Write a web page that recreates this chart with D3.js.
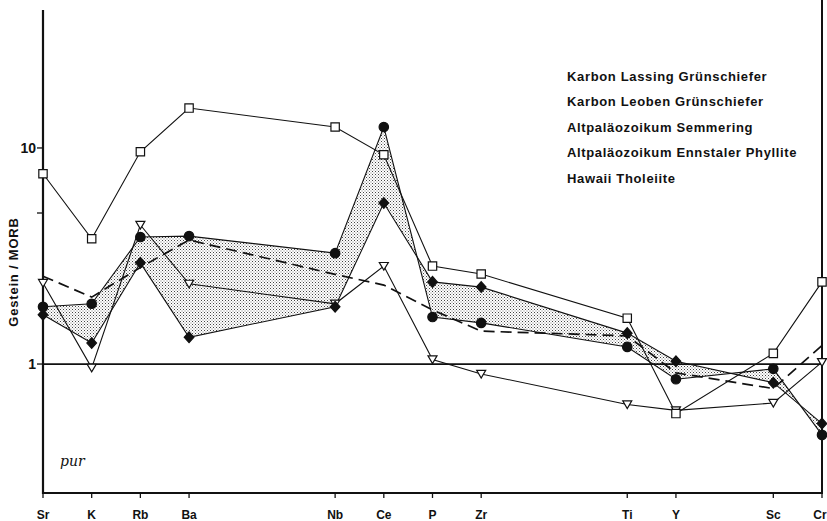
<!DOCTYPE html>
<html>
<head>
<meta charset="utf-8">
<script src="https://cdn.jsdelivr.net/npm/d3@7"></script>
<style>
  body { margin: 0; background: #fff; }
  text { font-family: "Liberation Sans", Arial, sans-serif; font-weight: bold; fill: #111; }
</style>
</head>
<body>
<div id="chart"></div>
<script>
// elements and their slot on the x axis (gaps as in the original diagram)
const elements = ["Sr", "K", "Rb", "Ba", "Nb", "Ce", "P", "Zr", "Ti", "Y", "Sc", "Cr"];
const slots    = [0, 1, 2, 3, 6, 7, 8, 9, 12, 13, 15, 16];

// Gestein / MORB values
const lassing   = [7.6, 3.8, 9.6, 15.3, 12.5, 9.3, 2.84, 2.61, 1.63, 0.59, 1.12, 2.4];
const leoben    = [1.84, 1.9, 3.87, 3.91, 3.26, 12.5, 1.65, 1.55, 1.2, 0.85, 0.95, 0.47];
const semmering = [1.69, 1.25, 2.94, 1.33, 1.84, 5.56, 2.4, 2.27, 1.39, 1.03, 0.82, 0.53];
const ennstal   = [2.37, 0.96, 4.4, 2.35, 1.9, 2.84, 1.05, 0.9, 0.65, 0.61, 0.66, 1.02];
const hawaii    = [2.55, 2.04, 2.8, 3.75, 2.6, 2.32, 1.78, 1.42, 1.35, 0.91, 0.77, 1.22];

const legendLabels = [
  "Karbon Lassing Grünschiefer",
  "Karbon Leoben Grünschiefer",
  "Altpaläozoikum Semmering",
  "Altpaläozoikum Ennstaler Phyllite",
  "Hawaii Tholeiite"
];
const yTicks = [1, 5, 10];
const yTickLabels = ["1", "", "10"];

const width = 827, height = 521;

const svg = d3.select("#chart").append("svg")
  .attr("width", width)
  .attr("height", height);

const x = d3.scaleLinear().domain([0, 16]).range([43, 822]);
const y = d3.scaleLog().domain([0.253, 43.5]).range([493, 10]);

// stipple pattern for the Leoben / Semmering envelope
const pat = svg.append("defs").append("pattern")
  .attr("id", "dots")
  .attr("width", 3).attr("height", 3)
  .attr("patternUnits", "userSpaceOnUse");
pat.append("rect").attr("width", 3).attr("height", 3).attr("fill", "#fff");
pat.append("rect").attr("width", 1).attr("height", 1).attr("fill", "#444");
pat.append("rect").attr("x", 1.5).attr("y", 1.5).attr("width", 1).attr("height", 1).attr("fill", "#777");

const pts = vals => vals.map((v, i) => [x(slots[i]), y(v)]);

// shaded band: Leoben forward, Semmering backward
const band = pts(leoben).concat(pts(semmering).reverse());
svg.append("path")
  .attr("d", "M" + band.join("L") + "Z")
  .attr("fill", "url(#dots)")
  .attr("stroke", "none");

// axes
svg.append("line")
  .attr("x1", x(0)).attr("x2", x(0))
  .attr("y1", 10).attr("y2", 494)
  .attr("stroke", "#111").attr("stroke-width", 2.2);
svg.append("line")
  .attr("x1", x(16)).attr("x2", x(16))
  .attr("y1", 0).attr("y2", 494)
  .attr("stroke", "#111").attr("stroke-width", 2);
svg.append("line")
  .attr("x1", x(0)).attr("x2", x(16))
  .attr("y1", 493).attr("y2", 493)
  .attr("stroke", "#111").attr("stroke-width", 2.2);

// reference line at 1
svg.append("line")
  .attr("x1", x(0)).attr("x2", x(16))
  .attr("y1", y(1)).attr("y2", y(1))
  .attr("stroke", "#111").attr("stroke-width", 1.8);

// y ticks
const yt = svg.append("g");
yt.selectAll("line").data(yTicks).enter().append("line")
  .attr("x1", x(0) - 6).attr("x2", x(0))
  .attr("y1", d => y(d)).attr("y2", d => y(d))
  .attr("stroke", "#111").attr("stroke-width", 1.3);
yt.selectAll("text").data(yTicks).enter().append("text")
  .attr("x", x(0) - 7)
  .attr("y", d => y(d))
  .attr("dy", "0.36em")
  .attr("text-anchor", "end")
  .style("font-size", "14px")
  .text((d, i) => yTickLabels[i]);

svg.append("text")
  .attr("transform", "translate(18,272) rotate(-90)")
  .attr("text-anchor", "middle")
  .style("font-size", "13px")
  .style("letter-spacing", "0.8px")
  .text("Gestein / MORB");

// x ticks
const xt = svg.append("g");
xt.selectAll("line").data(elements).enter().append("line")
  .attr("x1", (d, i) => x(slots[i])).attr("x2", (d, i) => x(slots[i]))
  .attr("y1", 493).attr("y2", 498)
  .attr("stroke", "#111").attr("stroke-width", 1.3);
xt.selectAll("text").data(elements).enter().append("text")
  .attr("x", (d, i) => x(slots[i]) + (i === elements.length - 1 ? -2 : 0))
  .attr("y", 519)
  .attr("text-anchor", "middle")
  .style("font-size", "12px")
  .text(d => d);

// series lines
const line = d3.line().x((d, i) => x(slots[i])).y(d => y(d));
[lassing, leoben, semmering, ennstal].forEach(s => {
  svg.append("path").attr("d", line(s))
    .attr("fill", "none").attr("stroke", "#111").attr("stroke-width", 1.1);
});
svg.append("path").attr("d", line(hawaii))
  .attr("fill", "none").attr("stroke", "#111")
  .attr("stroke-width", 1.7).attr("stroke-dasharray", "11,6");

// markers
const sym = (s, type, size, fill) => {
  svg.append("g").selectAll("path").data(s).enter().append("path")
    .attr("d", d3.symbol().type(type).size(size))
    .attr("transform", (d, i) => `translate(${x(slots[i])},${y(d)})`)
    .attr("fill", fill).attr("stroke", "#111").attr("stroke-width", 1.2);
};
const triDown = {
  draw(ctx, size) {
    const w = Math.sqrt(size) / 2;
    ctx.moveTo(-w, -w * 0.8);
    ctx.lineTo(w, -w * 0.8);
    ctx.lineTo(0, w * 0.9);
    ctx.closePath();
  }
};
const diamond = {
  draw(ctx, size) {
    const r = Math.sqrt(size) / 2;
    ctx.moveTo(0, -r);
    ctx.lineTo(r * 0.9, 0);
    ctx.lineTo(0, r);
    ctx.lineTo(-r * 0.9, 0);
    ctx.closePath();
  }
};
sym(ennstal, triDown, 81, "#fff");
sym(lassing, d3.symbolSquare, 70, "#fff");
sym(semmering, diamond, 115, "#111");
sym(leoben, d3.symbolCircle, 70, "#111");

// legend (text only, as in the figure)
svg.append("g").selectAll("text").data(legendLabels).enter().append("text")
  .attr("x", 567)
  .attr("y", (d, i) => 76 + i * 25.5)
  .attr("dy", "0.35em")
  .style("font-size", "13px")
  .style("letter-spacing", "0.65px")
  .text(d => d);

// handwritten mark
svg.append("text")
  .attr("x", 60).attr("y", 466)
  .style("font-family", "'DejaVu Serif', serif")
  .style("font-style", "italic")
  .style("font-weight", "normal")
  .style("font-size", "14px")
  .text("pur");
</script>
</body>
</html>
